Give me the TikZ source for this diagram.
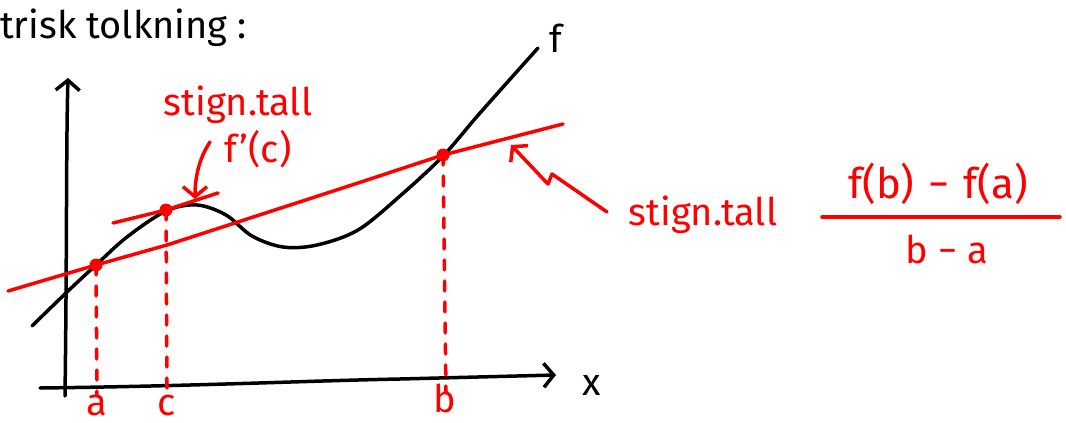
\documentclass[tikz,border=0pt]{standalone}
\usepackage{fontspec}
\setmainfont{Fira Sans}
\usetikzlibrary{arrows.meta}
\definecolor{pen}{RGB}{255,0,0}
\tikzset{
  ink/.style={line width=3.5pt, line cap=round, line join=round},
  redink/.style={ink, draw=pen},
  barb/.style={-{Straight Barb[length=10pt,width=24pt]}},
  dashline/.style={redink, dash pattern=on 10pt off 11pt},
  dot/.style={circle, fill=pen, inner sep=0pt, minimum size=13pt},
  hand/.style={inner sep=0pt, font=\fontsize{38}{44}\selectfont},
  redhand/.style={hand, text=pen},
}
\begin{document}
\begin{tikzpicture}[x=1pt,y=-1pt]
\useasboundingbox (0,0) rectangle (1066,423);

% title
\node[hand, anchor=base west] (title) at (0,38) {trisk tolkning :};

% axes
\coordinate (ybot) at (65,396);
\coordinate (ytop) at (68,78);
\draw[ink, barb] (ybot) .. controls (67,250) and (66,150) .. (ytop);
\coordinate (xl) at (40,388);
\coordinate (xr) at (556,375);
\draw[ink, barb] (xl) .. controls (200,386) and (300,381) .. (400,379) -- (xr);
\node[hand, anchor=base] (xlab) at (592,395) {x};

% curve f
\draw[ink] plot[smooth, tension=0.55] coordinates {
 (32,326) (67,292) (96,265) (127,237) (166,211) (197,205) (226,215)
 (252,236) (283,247) (317,245) (358,230) (400,196) (443,156) (480,113) (538,48)};
\node[hand, anchor=base] (flab) at (556,52) {f};

% points
\coordinate (A) at (96,265);
\coordinate (C) at (166,210);
\coordinate (B) at (443,155);

% secant
\coordinate (s1) at (8,291);
\coordinate (s2) at (563,124);
\draw[redink] (s1) -- (A) -- (167,245) -- (358,183) -- (B) -- (s2);

% tangent
\coordinate (t1) at (113,223);
\coordinate (t2) at (218,193);
\draw[redink] (t1) -- (C) -- (t2);

% dashed verticals
\coordinate (Ad) at (97,396);
\coordinate (Cd) at (167,396);
\coordinate (Bd) at (446,392);
\draw[dashline] (A) -- (Ad);
\draw[dashline] (C) -- (Cd);
\draw[dashline] (B) -- (Bd);

\node[dot] at (A) {};
\node[dot] at (C) {};
\node[dot] at (B) {};

\node[redhand, anchor=base] (alab) at (97,415) {a};
\node[redhand, anchor=base] (clab) at (167,415) {c};
\node[redhand, anchor=base] (blab) at (445,412) {b};

% tangent label
\node[redhand, anchor=base] (stig1) at (238,115) {stign.tall};
\node[redhand, anchor=base] (fc) at (258,162) {f'(c)};
\coordinate (la1) at (210,142);
\coordinate (la2) at (195,199);
\draw[redink, barb] (la1) .. controls (198,160) and (195,180) .. (la2);

% secant label
\node[redhand, anchor=base] (stig2) at (703,225) {stign.tall};
\coordinate (ra1) at (607,212);
\coordinate (ra2) at (552,174);
\coordinate (ra3) at (548,184);
\coordinate (ra4) at (511,145);
\draw[redink, barb] (ra1) -- (ra2) -- (ra3) -- (ra4);

% fraction
\node[redhand, anchor=base, font=\fontsize{42}{48}\selectfont] (num) at (938,198) {f(b)\,\,−\,\,f(a)};
\coordinate (fl) at (822,217);
\coordinate (fr) at (1060,217);
\draw[redink] (fl) -- (fr);
\node[redhand, anchor=base] (den) at (947,263) {b − a};
\end{tikzpicture}
\end{document}
